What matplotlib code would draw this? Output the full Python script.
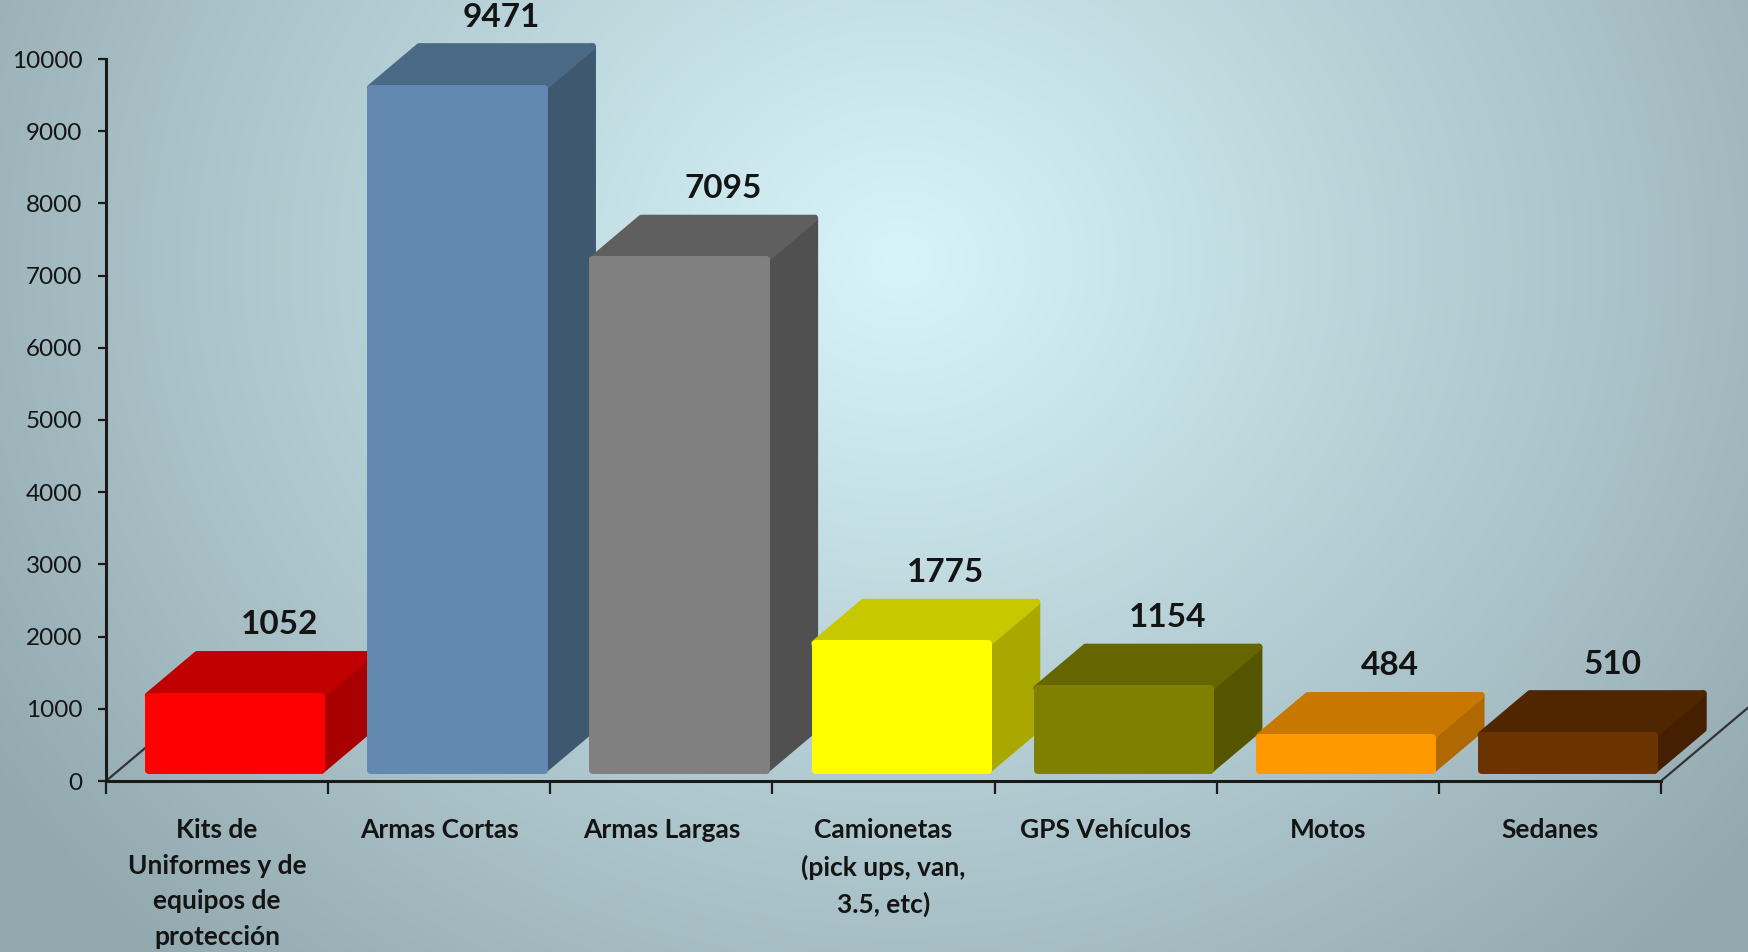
import matplotlib
matplotlib.use("Agg")
import matplotlib.pyplot as plt
import numpy as np
from matplotlib.patches import Polygon

# ----------------------------- data -----------------------------------------
categories = ["Kits de\nUniformes y de\nequipos de\nprotección", "Armas Cortas",
              "Armas Largas", "Camionetas\n(pick ups, van,\n3.5, etc)",
              "GPS Vehículos", "Motos", "Sedanes"]
values = [1052, 9471, 7095, 1775, 1154, 484, 510]
front_colors = ["#ff0000", "#6489b0", "#808080", "#ffff00", "#808000", "#ff9900", "#6b3300"]
top_colors = ["#c00000", "#4a6985", "#5f5f5f", "#c8c800", "#666600", "#c87800", "#4f2600"]
side_colors = ["#a80000", "#3e5870", "#505050", "#a8a800", "#555500", "#b06800", "#442000"]
yticks = list(range(0, 10001, 1000))

# ----------------------------- layout ---------------------------------------
W, H = 1748, 952
FONT = ["Lato", "DejaVu Sans"]
TXT = "#141414"
AXC = "#1a1a1a"

# fake 3D geometry (category units / value units)
FRONT_L, FRONT_W = -0.31, 0.78
DX, DY = 0.22, 570
BASE, TOP_EXTRA = 150, 130

fig = plt.figure(figsize=(W / 100, H / 100), dpi=100)

# radial gradient background
bg = fig.add_axes([0, 0, 1, 1])
bg.axis("off")
yy, xx = np.mgrid[0:H, 0:W]
r = np.sqrt(((xx - 900) / 900.0) ** 2 + ((yy - 260) / 800.0) ** 2)
t = np.clip(r / 1.2, 0, 1)
c0 = np.array([0xd8, 0xf4, 0xfa]) / 255
c1 = np.array([0x93, 0xa9, 0xb0]) / 255
img = c0[None, None, :] * (1 - t[..., None]) + c1[None, None, :] * t[..., None]
bg.imshow(img, aspect="auto", extent=[0, 1, 0, 1])

ax = fig.add_axes([106 / W, (H - 781) / H, (1661 - 106) / W, (781 - 59) / H])
ax.patch.set_alpha(0)
ax.set_xlim(-0.5, 6.5)
ax.set_ylim(0, 10000)

# floor diagonals
for xe in (-0.5, 6.5):
    ax.plot([xe, xe + 2 * DX], [0, 2 * DY], color="#333333", lw=1.6,
            clip_on=False, zorder=1)

for i, v in enumerate(values):
    x0 = i + FRONT_L
    x1 = x0 + FRONT_W
    y0, y1 = BASE, v + TOP_EXTRA
    side = [(x1, y0), (x1 + DX, y0 + DY), (x1 + DX, y1 + DY), (x1, y1)]
    top = [(x0, y1), (x1, y1), (x1 + DX, y1 + DY), (x0 + DX, y1 + DY)]
    front = [(x0, y0), (x1, y0), (x1, y1), (x0, y1)]
    z = 3 + i
    for pts, col in ((side, side_colors[i]), (top, top_colors[i]), (front, front_colors[i])):
        ax.add_patch(Polygon(pts, closed=True, fc=col, ec=col, lw=5,
                             joinstyle="round", clip_on=False, zorder=z))
    ax.text(i + 0.28, v + 1110, str(v), ha="center", va="center", fontsize=24,
            fontweight="bold", family=FONT, color=TXT, zorder=20)

# axes styling
for s in ("top", "right"):
    ax.spines[s].set_visible(False)
for s in ("left", "bottom"):
    ax.spines[s].set_color(AXC)
    ax.spines[s].set_linewidth(2.2)
    ax.spines[s].set_zorder(2)

ax.set_yticks(yticks)
ax.set_yticklabels([str(y) for y in yticks], family=FONT, fontsize=17.5, color=TXT)
ax.tick_params(axis="y", length=6, width=1.6, color=AXC, pad=11)

ax.set_xticks(range(len(categories)))
ax.set_xticklabels(categories, family=FONT, fontsize=19, fontweight="bold",
                   color=TXT, linespacing=1.57)
ax.set_xticks(np.arange(-0.5, len(categories), 1), minor=True)
ax.tick_params(axis="x", which="major", length=0, pad=27)
ax.tick_params(axis="x", which="minor", length=9.5, width=1.6, color=AXC)

fig.savefig("out.png", dpi=100)
